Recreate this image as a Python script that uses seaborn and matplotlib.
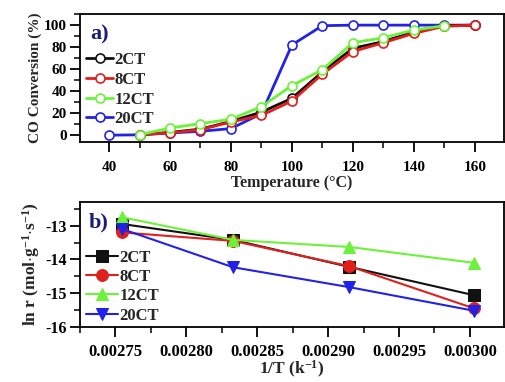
import numpy as np
import pandas as pd
import matplotlib
matplotlib.use("Agg")
import matplotlib.pyplot as plt
from matplotlib.ticker import MultipleLocator, FormatStrFormatter
import seaborn as sns

# ---- data, panel a) CO conversion vs temperature ----
temp = [40, 50, 60, 70, 80, 90, 100, 110, 120, 130, 140, 150, 160]
conv_2ct = [np.nan, 0.5, 2.5, 5.5, 12.5, 21, 33.5, 57.5, 79, 85, 94, 99.5, 100]
conv_8ct = [np.nan, 0.5, 2, 5, 12, 18, 31, 55.5, 76, 84, 92.5, 99, 100]
conv_12ct = [np.nan, 0.5, 6.5, 10.5, 14.5, 26, 45, 59.5, 84, 88.5, 95.5, 99.5, np.nan]
conv_20ct = [0, 0.3, 2, 3.5, 6, 19.5, 82, 99.5, 100, 100, 100, 100, 100]
err_2ct = [0, 0, 0, 0, 0, 1.5, 3, 3, 2.5, 2, 2, 0, 0]
err_8ct = [0, 0, 0, 0, 0, 1.5, 2.5, 3, 2.5, 2, 2, 0, 0]
err_12ct = [0, 0, 0, 0, 0, 0, 0, 0, 2, 0, 0, 0, 0]
err_20ct = [0, 0, 0, 0, 0, 1.5, 3, 0, 0, 0, 0, 0, 0]

# ---- data, panel b) Arrhenius plot ----
inv_t = [0.002755, 0.002833, 0.002915, 0.003003]
lnr_2ct = [-12.95, -13.42, -14.22, -15.06]
lnr_8ct = [-13.2, -13.45, -14.2, -15.45]
lnr_12ct = [-12.75, -13.42, -13.63, -14.1]
lnr_20ct = [-13.1, -14.23, -14.82, -15.52]

labels = ["2CT", "8CT", "12CT", "20CT"]
colors = ["#111111", "#e0201c", "#6cf23a", "#2222e6"]
fill_markers = ["s", "o", "^", "v"]

sns.set_theme(style="ticks")
plt.rcParams['font.family'] = ['Liberation Serif', 'DejaVu Serif']
plt.rcParams['font.weight'] = 'bold'
plt.rcParams['axes.labelweight'] = 'bold'
plt.rcParams['axes.unicode_minus'] = False
plt.rcParams['mathtext.fontset'] = 'custom'
plt.rcParams['mathtext.rm'] = 'Liberation Serif:bold'
plt.rcParams['mathtext.it'] = 'Liberation Serif:bold'
plt.rcParams['mathtext.bf'] = 'Liberation Serif:bold'

fig = plt.figure(figsize=(5.05, 3.82), dpi=100)
ax1 = fig.add_axes([0.158, 0.628, 0.840, 0.335])
ax2 = fig.add_axes([0.158, 0.144, 0.840, 0.327])

# panel a
conv = [conv_2ct, conv_8ct, conv_12ct, conv_20ct]
errs = [err_2ct, err_8ct, err_12ct, err_20ct]
for i in range(4):
    df = pd.DataFrame({"T": temp, "conv": conv[i], "err": errs[i]}).dropna()
    sns.lineplot(data=df, x="T", y="conv", ax=ax1, color=colors[i], lw=2,
                 marker="o", ms=6.5, mfc="white", mec=colors[i], mew=1.2,
                 label=labels[i], zorder=3 + i * 0.1 if i != 3 else 2.5)
    sub = df[df["err"] > 0]
    ax1.errorbar(sub["T"], sub["conv"], yerr=sub["err"], fmt="none",
                 ecolor=colors[i], elinewidth=1, capsize=3, capthick=1)

ax1.set_xlim(30.4, 169.6)
ax1.set_ylim(-6.3, 110)
ax1.xaxis.set_major_locator(MultipleLocator(20))
ax1.xaxis.set_minor_locator(MultipleLocator(10))
ax1.yaxis.set_major_locator(MultipleLocator(20))
ax1.yaxis.set_minor_locator(MultipleLocator(10))
ax1.set_xlabel("Temperature (°C)", fontsize=11.5, labelpad=1)
ax1.set_ylabel("CO Conversion (%)", fontsize=11, labelpad=1)
ax1.legend(loc="upper left", bbox_to_anchor=(-0.008, 0.78), frameon=False,
           fontsize=12, handlelength=1.6, handletextpad=0.1,
           labelspacing=0.22, borderaxespad=0.2)
ax1.text(0.025, 0.84, "a)", transform=ax1.transAxes, fontsize=16,
         fontweight="bold", color="#1c1c78", va="center")

# panel b
lnr = [lnr_2ct, lnr_8ct, lnr_12ct, lnr_20ct]
for i in range(4):
    sns.lineplot(x=inv_t, y=lnr[i], ax=ax2, color=colors[i], lw=1.5,
                 marker=fill_markers[i], ms=8.5, mfc=colors[i], mec=colors[i],
                 label=labels[i])

ax2.set_xlim(0.002725, 0.003024)
ax2.set_ylim(-16, -12.3)
ax2.xaxis.set_major_locator(MultipleLocator(0.00005))
ax2.xaxis.set_minor_locator(MultipleLocator(0.000025))
ax2.xaxis.set_major_formatter(FormatStrFormatter("%.5f"))
ax2.yaxis.set_major_locator(MultipleLocator(1))
ax2.yaxis.set_minor_locator(MultipleLocator(0.5))
ax2.set_xlabel("1/T (k$^{-1}$)", fontsize=12.5, labelpad=-1)
ax2.set_ylabel("ln r (mol$\\cdot$g$^{-1}$$\\cdot$s$^{-1}$)", fontsize=12.5, labelpad=2)
ax2.legend(loc="upper left", bbox_to_anchor=(-0.008, 0.7), frameon=False,
           fontsize=12, handlelength=1.9, handletextpad=0.1,
           labelspacing=0.2, borderaxespad=0.2)
ax2.text(0.02, 0.84, "b)", transform=ax2.transAxes, fontsize=16,
         fontweight="bold", color="#1c1c78", va="center")

for ax in (ax1, ax2):
    for s in ax.spines.values():
        s.set_visible(True)
        s.set_linewidth(1.3)
        s.set_color("black")
    ax.tick_params(which="major", direction="out", length=7.5, width=1.3,
                   labelsize=11, pad=2, color="black", labelcolor="black")
    ax.tick_params(which="minor", direction="out", length=4, width=1.1,
                   color="black")
    for t in ax.get_xticklabels() + ax.get_yticklabels():
        t.set_fontweight("bold")
ax1.tick_params(axis="x", which="major", pad=6)
ax2.tick_params(axis="x", which="major", labelsize=12, pad=5)
ax2.tick_params(axis="y", which="major", labelsize=11.5)

fig.savefig("out.png", dpi=100)
